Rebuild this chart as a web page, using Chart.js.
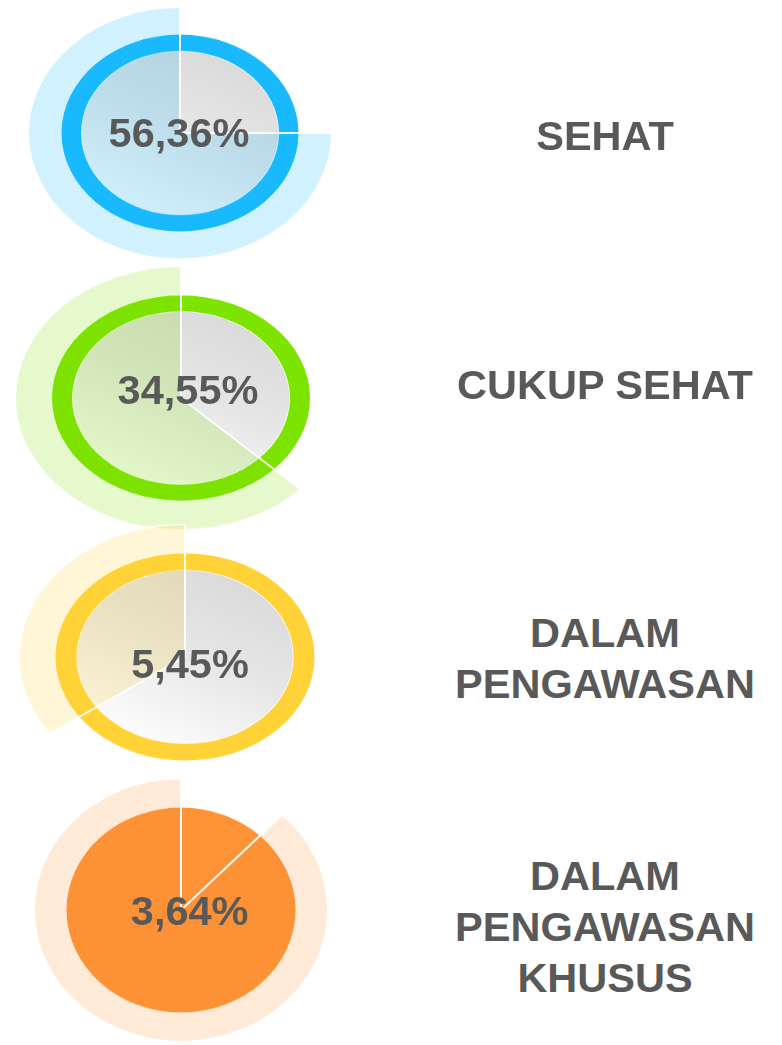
<!DOCTYPE html>
<html>
<head>
<meta charset="utf-8">
<title>Tingkat Kesehatan</title>
<script src="https://cdn.jsdelivr.net/npm/chart.js@4.4.1/dist/chart.umd.min.js"></script>
<style>
  html, body { margin: 0; padding: 0; background: #fff; }
  body { width: 782px; height: 1045px; position: relative; overflow: hidden; font-family: "Liberation Sans", Arial, sans-serif; }
  .gauge { position: absolute; }
  .gauge canvas { position: absolute; left: 0; top: 0; }
  .value { position: absolute; width: 240px; text-align: center; font-weight: bold; font-size: 41.5px; line-height: 48px; color: #595959; white-space: nowrap; }
  .label { position: absolute; width: 360px; text-align: center; font-weight: bold; font-size: 41.5px; line-height: 51px; color: #595959; white-space: nowrap; }
</style>
</head>
<body>
<script>
const CATEGORIES = [["SEHAT"], ["CUKUP SEHAT"], ["DALAM", "PENGAWASAN"], ["DALAM", "PENGAWASAN", "KHUSUS"]];
const PERCENTAGES = [56.36, 34.55, 5.45, 3.64];
// pale outer wedge, % of a full turn counter-clockwise from 12 o'clock
const WEDGE_SHARE = [75, 62.8, 34.8, 87.9];
const RING_COLORS = ["#19b9fd", "#7de300", "#ffd337", "#fd9236"];

// centre, wedge radius, ring radius, inner disc radius (0 = solid), vertical squash, text spots
const LAYOUT = [
  { cx: 180,   cy: 132.5, r: 152, ring: 118.5, inner: 99,    ky: 0.83,  tx: 179,   ty: 132.5, ly: 135.7 },
  { cx: 181,   cy: 397.5, r: 166, ring: 129,   inner: 109,   ky: 0.795, tx: 188,   ty: 390,   ly: 384 },
  { cx: 184.5, cy: 656.7, r: 166, ring: 129.5, inner: 108.7, ky: 0.8,   tx: 190,   ty: 664,   ly: 657.7 },
  { cx: 180.5, cy: 910.3, r: 147, ring: 114.5, inner: 0,     ky: 0.895, tx: 189.7, ty: 911,   ly: 926.8 },
];
const LABEL_X = 605;

function fmtPct(v) { return v.toFixed(2).replace(".", ",") + "%"; }

function hexA(hex, a) {
  const n = parseInt(hex.slice(1), 16);
  return `rgba(${(n >> 16) & 255},${(n >> 8) & 255},${n & 255},${a})`;
}

function baseOptions(extra) {
  return Object.assign({
    responsive: false,
    animation: false,
    events: [],
    layout: { padding: 0 },
    plugins: { legend: { display: false }, tooltip: { enabled: false } },
  }, extra);
}

function addCanvas(host, size) {
  const c = document.createElement("canvas");
  c.width = size; c.height = size;
  host.appendChild(c);
  return c;
}

function discGradient(size, rad) {
  return c => {
    const ctx = c.chart.ctx, m = size / 2;
    const g = ctx.createLinearGradient(m - rad * 0.55, m + rad, m + rad * 0.55, m - rad);
    g.addColorStop(0, "#ffffff");
    g.addColorStop(0.55, "#e6e6e6");
    g.addColorStop(1, "#d9d9d9");
    return g;
  };
}

LAYOUT.forEach((L, i) => {
  const size = L.r * 2;
  const host = document.createElement("div");
  host.className = "gauge";
  host.style.cssText = `left:${L.cx - L.r}px;top:${L.cy - L.r}px;width:${size}px;height:${size}px;transform:scaleY(${L.ky});`;
  document.body.appendChild(host);

  // gray inner disc
  if (L.inner > 0) {
    new Chart(addCanvas(host, size), {
      type: "pie",
      data: { datasets: [{ data: [100], backgroundColor: discGradient(size, L.inner), borderColor: "#ffffff", borderWidth: 1.5 }] },
      options: baseOptions({ radius: L.inner }),
    });
  }

  // coloured ring (solid for the last one)
  new Chart(addCanvas(host, size), {
    type: "doughnut",
    data: { datasets: [{ data: [100], backgroundColor: RING_COLORS[i], borderWidth: 0 }] },
    options: baseOptions({ radius: L.ring, cutout: L.inner > 0 ? (L.inner / L.ring * 100) + "%" : 0 }),
  });

  // translucent wedge over everything
  const share = WEDGE_SHARE[i];
  new Chart(addCanvas(host, size), {
    type: "pie",
    data: { datasets: [{
      data: [share, 100 - share],
      backgroundColor: [hexA(RING_COLORS[i], 0.2), "rgba(0,0,0,0)"],
      borderColor: "#ffffff",
      borderWidth: [2, 0],
    }] },
    options: baseOptions({ radius: L.r, rotation: -share * 3.6 }),
  });
});

LAYOUT.forEach((L, i) => {
  const v = document.createElement("div");
  v.className = "value";
  v.style.left = (L.tx - 120) + "px";
  v.style.top = (L.ty - 24) + "px";
  v.textContent = fmtPct(PERCENTAGES[i]);
  document.body.appendChild(v);

  const lines = CATEGORIES[i];
  const lab = document.createElement("div");
  lab.className = "label";
  lab.style.left = (LABEL_X - 180) + "px";
  lab.style.top = (L.ly - lines.length * 25.5) + "px";
  lab.innerHTML = lines.join("<br>");
  document.body.appendChild(lab);
});
</script>
</body>
</html>
